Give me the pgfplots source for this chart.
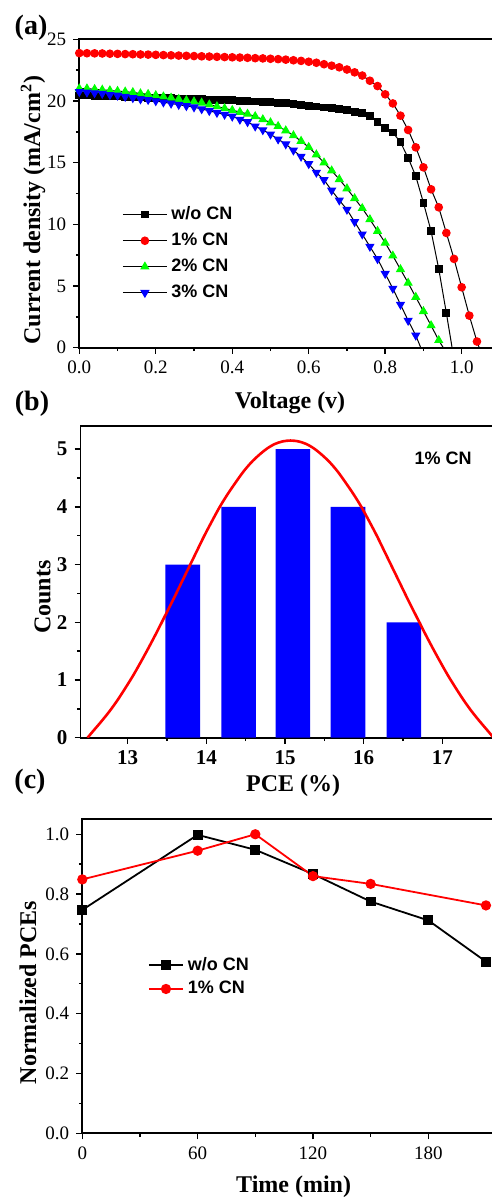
\documentclass[border=0pt]{standalone}
\usepackage{fontspec}
\setmainfont{Liberation Serif}
\newfontfamily\arialfont{Liberation Sans}
\usepackage{pgfplots}
\pgfplotsset{compat=1.18}
\usepackage{pgfplotstable}

\newcommand{\legfont}{\arialfont\bfseries\fontsize{9}{10}\selectfont}
\newcommand{\labfont}{\bfseries\fontsize{12}{13}\selectfont}

% J-V curves, panel (a)
\pgfplotstableread{
v j
0.00 20.45
0.02 20.44
0.04 20.42
0.06 20.4
0.08 20.38
0.10 20.36
0.12 20.34
0.14 20.31
0.16 20.29
0.18 20.27
0.20 20.25
0.22 20.23
0.24 20.21
0.26 20.19
0.28 20.17
0.30 20.15
0.32 20.13
0.34 20.11
0.36 20.09
0.38 20.07
0.40 20.05
0.42 20.02
0.44 19.99
0.46 19.96
0.48 19.93
0.50 19.9
0.52 19.86
0.54 19.82
0.56 19.78
0.58 19.7
0.60 19.62
0.62 19.55
0.64 19.47
0.66 19.4
0.68 19.35
0.70 19.27
0.72 19.13
0.74 19.05
0.76 18.8
0.78 18.3
0.80 17.8
0.82 17.45
0.84 16.65
0.86 15.4
0.88 13.9
0.90 11.75
0.92 9.45
0.94 6.4
0.96 2.8
}\woCN

\pgfplotstableread{
v j
0.00 23.88
0.02 23.87
0.04 23.86
0.06 23.85
0.08 23.83
0.10 23.82
0.12 23.8
0.14 23.79
0.16 23.77
0.18 23.76
0.20 23.74
0.22 23.72
0.24 23.7
0.26 23.68
0.28 23.66
0.30 23.64
0.32 23.62
0.34 23.6
0.36 23.58
0.38 23.56
0.40 23.54
0.42 23.52
0.44 23.5
0.46 23.47
0.48 23.45
0.50 23.42
0.52 23.39
0.54 23.35
0.56 23.3
0.58 23.25
0.60 23.18
0.62 23.1
0.64 22.98
0.66 22.86
0.68 22.73
0.70 22.55
0.72 22.32
0.74 22.06
0.76 21.64
0.78 21.21
0.80 20.54
0.82 19.8
0.84 18.81
0.86 17.65
0.88 16.24
0.90 14.62
0.92 12.84
0.94 11.38
0.96 9.3
0.98 7.2
1.00 4.9
1.02 2.6
1.04 0.5
}\oneCN

\pgfplotstableread{
v j
0.00 21.0
0.02 21.0
0.04 20.95
0.06 20.9
0.08 20.85
0.10 20.8
0.12 20.75
0.14 20.7
0.16 20.6
0.18 20.55
0.20 20.45
0.22 20.35
0.24 20.25
0.26 20.15
0.28 20.05
0.30 19.95
0.32 19.85
0.34 19.7
0.36 19.55
0.38 19.4
0.40 19.25
0.42 19.1
0.44 18.95
0.46 18.75
0.48 18.5
0.50 18.25
0.52 17.95
0.54 17.6
0.56 17.2
0.58 16.75
0.60 16.25
0.62 15.65
0.64 15.0
0.66 14.35
0.68 13.65
0.70 12.9
0.72 12.1
0.74 11.3
0.76 10.4
0.78 9.45
0.80 8.5
0.82 7.45
0.84 6.35
0.86 5.25
0.88 4.1
0.90 2.95
0.92 1.8
0.94 0.6
}\twoCN

\pgfplotstableread{
v j
0.00 20.75
0.02 20.7
0.04 20.65
0.06 20.6
0.08 20.5
0.10 20.45
0.12 20.35
0.14 20.25
0.16 20.15
0.18 20.1
0.20 20.0
0.22 19.9
0.24 19.8
0.26 19.7
0.28 19.6
0.30 19.5
0.32 19.35
0.34 19.2
0.36 19.05
0.38 18.9
0.40 18.75
0.42 18.5
0.44 18.3
0.46 17.95
0.48 17.65
0.50 17.3
0.52 16.9
0.54 16.5
0.56 16.0
0.58 15.5
0.60 14.9
0.62 14.2
0.64 13.6
0.66 12.75
0.68 11.95
0.70 11.2
0.72 10.2
0.74 9.2
0.76 8.2
0.78 7.2
0.80 6.0
0.82 4.8
0.84 3.5
0.86 2.2
0.88 1.0
}\threeCN

% distribution curve, panel (b)
\pgfplotstableread{
x y
12.49 0
12.57 0.13
12.67 0.29
12.77 0.46
12.87 0.65
12.97 0.86
13.07 1.08
13.17 1.32
13.27 1.57
13.37 1.83
13.47 2.10
13.57 2.37
13.67 2.65
13.77 2.93
13.87 3.21
13.97 3.49
14.07 3.75
14.17 4.00
14.27 4.22
14.37 4.42
14.47 4.61
14.57 4.77
14.67 4.90
14.77 5.01
14.87 5.09
14.97 5.135
15.07 5.15
15.17 5.135
15.27 5.09
15.37 5.01
15.47 4.90
15.57 4.77
15.67 4.61
15.77 4.42
15.87 4.22
15.97 4.00
16.07 3.75
16.17 3.49
16.27 3.21
16.37 2.93
16.47 2.65
16.57 2.37
16.67 2.10
16.77 1.83
16.87 1.57
16.97 1.32
17.07 1.08
17.17 0.86
17.27 0.65
17.37 0.46
17.47 0.29
17.57 0.13
17.65 0
}\fitcurve

\pgfplotsset{
  panel/.style={
    scale only axis,
    anchor=south west,
    axis line style={line width=0.9pt},
    tick align=outside,
    xtick pos=left, ytick pos=left,
    major tick length=3pt, minor tick length=1.7pt,
    every tick/.style={black, line width=0.7pt},
    minor tick num=1,
    /pgf/number format/assume math mode=true,
    clip=true,
  },
}

\begin{document}
\begin{tikzpicture}
\useasboundingbox (0pt,0pt) rectangle (246pt,600pt);

% ---------------- (a)
\begin{axis}[panel,
  at={(39.65pt,426.15pt)}, width=210.3pt, height=154.2pt,
  xmin=0, xmax=1.1, ymin=0, ymax=25,
  xtick={0,0.2,...,1.0}, ytick={0,5,...,25},
  ticklabel style={font=\fontsize{9.5}{10}\selectfont},
  xticklabel style={/pgf/number format/fixed,/pgf/number format/fixed zerofill,/pgf/number format/precision=1},
  xlabel={\labfont Voltage (v)},
  ylabel={\labfont Current density (mA/cm\textsuperscript{2})},
  xlabel style={at={(axis description cs:0.501,-0.179)}, anchor=center},
  ylabel style={at={(axis description cs:-0.11,0.446)}, anchor=center},
  legend style={draw=none, fill=none, at={(0.1015,0.472)}, anchor=north west,
    font=\legfont, row sep=1.2pt, inner sep=0pt},
  legend cell align=left,
  legend image code/.code={\draw[mark repeat=2,mark phase=2,#1] plot coordinates {(0pt,0pt) (11pt,0pt) (22pt,0pt)};},
]
\addplot[black, line width=0.5pt, mark=square*, mark size=1.7pt, mark options={fill=black, draw=black}] table[x=v,y=j] {\woCN};
\addlegendentry{w/o CN}
\addplot[black, line width=0.5pt, mark=*, mark size=1.9pt, mark options={fill=red, draw=red}] table[x=v,y=j] {\oneCN};
\addlegendentry{1\% CN}
\addplot[black, line width=0.5pt, mark=triangle*, mark size=2.2pt, mark options={fill=green, draw=green}] table[x=v,y=j] {\twoCN};
\addlegendentry{2\% CN}
\addplot[black, line width=0.5pt, mark=triangle*, mark size=2.2pt, mark options={fill=blue, draw=blue, rotate=180}] table[x=v,y=j] {\threeCN};
\addlegendentry{3\% CN}
\addplot[black, line width=0.5pt, forget plot] coordinates {(0.96,2.8) (0.975,0)};
\addplot[black, line width=0.5pt, forget plot] coordinates {(1.04,0.5) (1.046,0)};
\addplot[black, line width=0.5pt, forget plot] coordinates {(0.94,0.6) (0.952,0)};
\addplot[black, line width=0.5pt, forget plot] coordinates {(0.88,1.0) (0.893,0)};
\end{axis}

% ---------------- (b)
\begin{axis}[panel,
  at={(40.25pt,231.15pt)}, width=208.5pt, height=155.8pt,
  xmin=12.4, xmax=17.7, ymin=0, ymax=5.4,
  xtick={13,14,15,16,17}, ytick={0,1,...,5},
  ticklabel style={font=\bfseries\fontsize{10.5}{11}\selectfont},
  xlabel={\labfont PCE (\%)},
  ylabel={\labfont Counts},
  xlabel style={at={(axis description cs:0.51,-0.155)}, anchor=center},
  ylabel style={at={(axis description cs:-0.091,0.451)}, anchor=center},
]
\addplot[ybar, bar width=0.44, fill=blue, draw=none] coordinates {
  (13.70,3) (14.41,4) (15.10,5) (15.80,4) (16.51,2)
};
\addplot[red, line width=1.3pt, smooth] table[x=x,y=y] {\fitcurve};
\node[font=\legfont] at (axis cs:17.01,4.84) {1\% CN};
\end{axis}

% ---------------- (c)
\begin{axis}[panel,
  at={(41.15pt,33.35pt)}, width=207.6pt, height=157pt,
  xmin=0, xmax=216, ymin=0, ymax=1.05,
  xtick={0,60,120,180}, ytick={0,0.2,...,1.0},
  ticklabel style={font=\fontsize{9.5}{10}\selectfont},
  yticklabel style={/pgf/number format/fixed,/pgf/number format/fixed zerofill,/pgf/number format/precision=1},
  xlabel={\labfont Time (min)},
  ylabel={\labfont Normalized PCEs},
  xlabel style={at={(axis description cs:0.509,-0.17)}, anchor=center},
  ylabel style={at={(axis description cs:-0.131,0.448)}, anchor=center},
  legend style={draw=none, fill=none, at={(0.1575,0.575)}, anchor=north west,
    font=\legfont, row sep=0pt, inner sep=0pt},
  legend cell align=left,
  legend image code/.code={\draw[mark repeat=2,mark phase=2,#1] plot coordinates {(0pt,0pt) (8.5pt,0pt) (17pt,0pt)};},
]
\addplot[black, line width=0.9pt, mark=square*, mark size=2pt] coordinates {
  (0,0.747) (60,0.998) (90,0.948) (120,0.867) (150,0.775) (180,0.712) (210,0.574)
};
\addlegendentry{w/o CN}
\addplot[red, line width=0.9pt, mark=*, mark size=2.1pt] coordinates {
  (0,0.849) (60,0.945) (90,1.0) (120,0.86) (150,0.834) (210,0.762)
};
\addlegendentry{1\% CN}
\end{axis}

\node[font=\bfseries\fontsize{14}{15}\selectfont] at (15.5pt,586pt) {(a)};
\node[font=\bfseries\fontsize{14}{15}\selectfont] at (16pt,398pt) {(b)};
\node[font=\bfseries\fontsize{14}{15}\selectfont] at (15pt,209pt) {(c)};
\end{tikzpicture}
\end{document}
